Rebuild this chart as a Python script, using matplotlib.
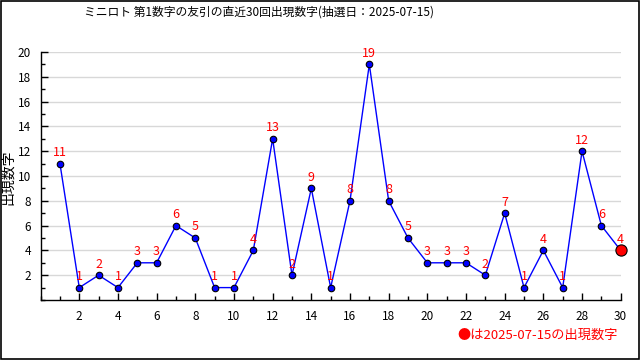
import matplotlib
matplotlib.use("Agg")
import matplotlib.pyplot as plt
from matplotlib.ticker import MultipleLocator

plt.rcParams['font.family'] = ['Noto Sans CJK JP', 'DejaVu Sans']

draws = list(range(1, 31))
values = [11, 1, 2, 1, 3, 3, 6, 5, 1, 1, 4, 13, 2, 9, 1, 8, 19, 8, 5, 3, 3, 3, 2, 7, 1, 4, 1, 12, 6, 4]
title = "ミニロト 第1数字の友引の直近30回出現数字(抽選日：2025-07-15)"
ylabel = "出現数字"
note = "●は2025-07-15の出現数字"

fig = plt.figure(figsize=(6.4, 3.6), dpi=100)
fig.patch.set_facecolor('white')
fig.patches.append(plt.Rectangle((0.0008, 0.0014), 0.9984, 0.997, transform=fig.transFigure,
                                 fill=False, edgecolor='black', linewidth=1.2))
ax = fig.add_axes([40.6 / 640, 1 - 300 / 360, (620.7 - 40.6) / 640, (300 - 52) / 360])

ax.plot(draws, values, color='#0000ff', linewidth=1, zorder=3, clip_on=False)
ax.scatter(draws[:-1], values[:-1], s=22, color='#0000ff', edgecolor='black', linewidth=0.8,
           zorder=4, clip_on=False)
ax.scatter(draws[-1:], values[-1:], s=65, color='#ff0000', edgecolor='black', linewidth=0.8,
           zorder=5, clip_on=False)

for x, v in zip(draws, values):
    ax.annotate(str(v), (x, v), xytext=(0, 11), textcoords='offset pixels',
                ha='center', va='center', color='#ff0000', fontsize=9, zorder=6,
                annotation_clip=False)

ax.set_xlim(0, 30)
ax.set_ylim(0, 20)
ax.xaxis.set_minor_locator(MultipleLocator(1))
ax.yaxis.set_minor_locator(MultipleLocator(1))
ax.set_xticks([t for t in range(2, 31, 2)])
ax.set_yticks([t for t in range(2, 21, 2)])
ax.tick_params(axis='both', which='major', direction='in', length=5, width=1, labelsize=8.5, pad=7)
ax.tick_params(axis='both', which='minor', direction='in', length=3, width=1)
ax.grid(axis='y', which='major', color='#d8d8d8', linewidth=1, zorder=0)
for s in ['top', 'right']:
    ax.spines[s].set_visible(False)
for s in ['left', 'bottom']:
    ax.spines[s].set_linewidth(1)

fig.text(259 / 640, 1 - 12 / 360, title, ha='center', va='center', fontsize=8.5)
fig.text(8 / 640, 1 - 177 / 360, ylabel, ha='center', va='center', rotation=90, fontsize=10)
fig.text(618 / 640, 1 - 335 / 360, note, ha='right', va='center', fontsize=9.5, color='#ff0000')

fig.savefig('out.png', dpi=100)
